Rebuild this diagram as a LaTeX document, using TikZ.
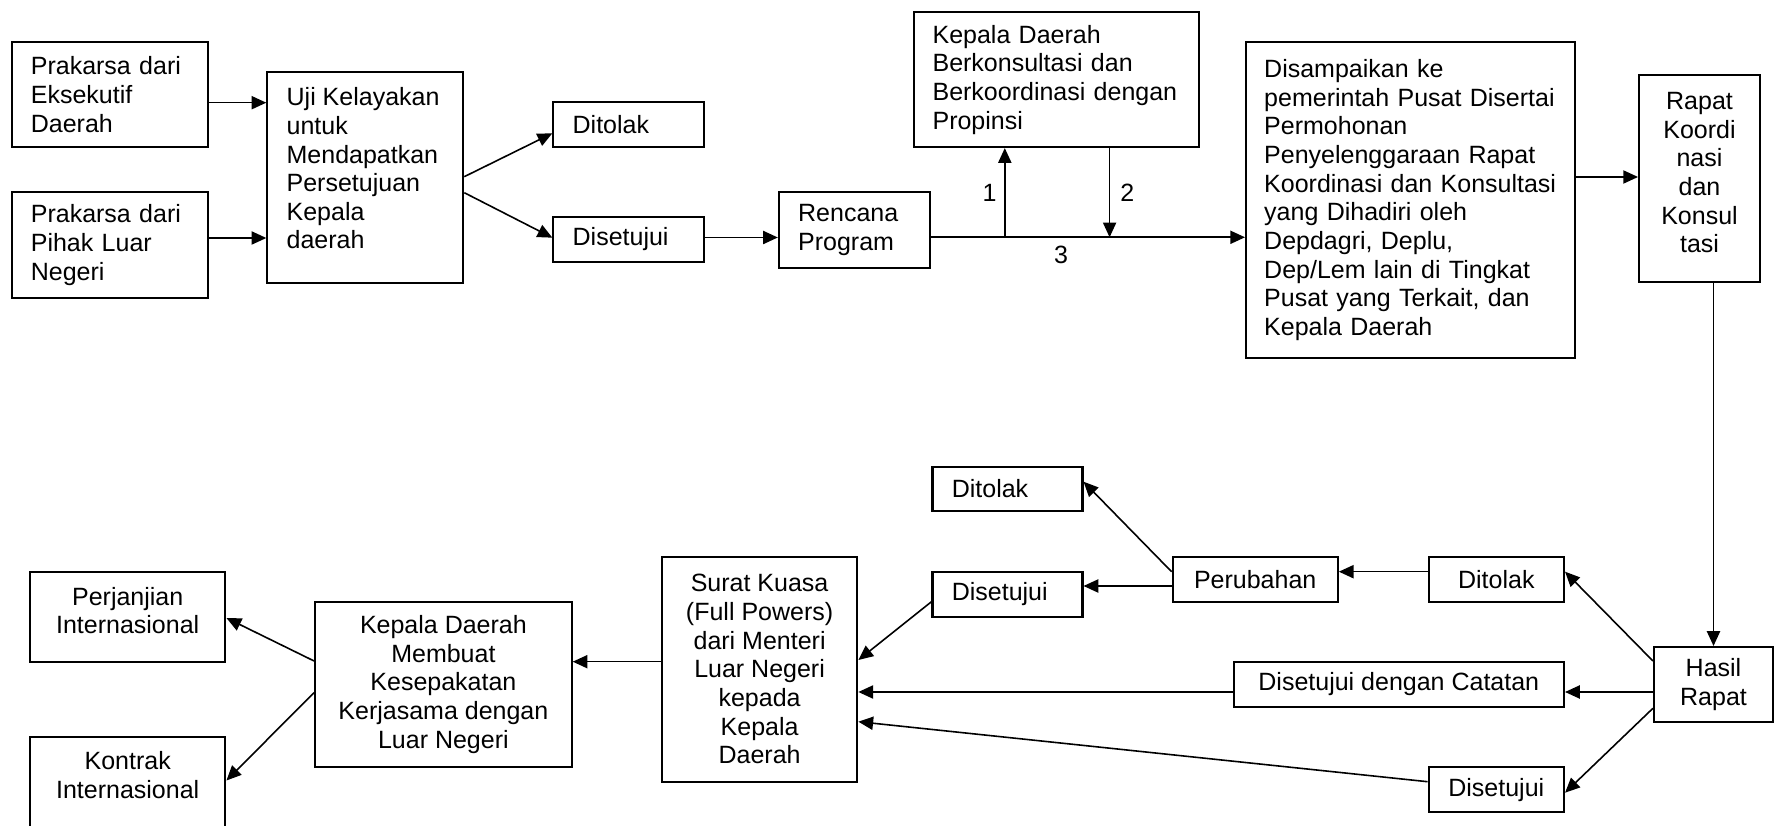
\documentclass[tikz,border=0pt]{standalone}
\usepackage{fontspec}
\setmainfont{Liberation Sans}
\usepackage{tikz}
\usetikzlibrary{arrows.meta}

\begin{document}
\begin{tikzpicture}[>={Triangle[length=6.5pt,width=5.8pt]},x=0.44pt,y=-0.44pt]
\tikzstyle{box}=[draw=black,line width=0.9pt,inner xsep=8.5pt,inner ysep=0pt]
\tikzstyle{lbox}=[box,align=left]
\tikzstyle{cbox}=[box,align=center]
\tikzset{font=\fontsize{11}{12.6}\selectfont}

\useasboundingbox (0,0) rectangle (1774,826);
\clip (0,0) rectangle (1774,826);

        % top row
        \node[lbox,text width=69.3pt,minimum height=46.1pt]   (prakarsaA) at (109.6,94.7)   {Prakarsa dari\\Eksekutif\\Daerah};
        \node[lbox,text width=69.3pt,minimum height=46.4pt]   (prakarsaB) at (109.6,245)    {Prakarsa dari\\Pihak Luar\\Negeri};
        \node[box,inner ysep=7pt]                             (uji)       at (365.3,177.4)  {\parbox[c][79pt][t]{69.2pt}{\raggedright Uji Kelayakan\\untuk\\Mendapatkan\\Persetujuan\\Kepala\\daerah}};
        \node[lbox,text width=49.3pt,minimum height=19.7pt]   (tolakA)    at (628.7,124.7)  {Ditolak};
        \node[lbox,text width=49.3pt,minimum height=19.8pt]   (setujuA)   at (628.7,239.2)  {Disetujui};
        \node[lbox,text width=49.3pt,minimum height=33.2pt]   (rencana)   at (854.2,230)    {Rencana\\Program};
        \node[lbox,inner xsep=8pt,text width=109.4pt,minimum height=59.3pt] (konsul) at (1056.9,79.7) {Kepala Daerah\\Berkonsultasi dan\\Berkoordinasi dengan\\Propinsi};
        \node[lbox,inner xsep=8pt,text width=128.9pt,minimum height=139.3pt] (pusat) at (1410.7,200) {Disampaikan ke\\pemerintah Pusat Disertai\\Permohonan\\Penyelenggaraan Rapat\\Koordinasi dan Konsultasi\\yang Dihadiri oleh\\Depdagri, Deplu,\\Dep/Lem lain di Tingkat\\Pusat yang Terkait, dan\\Kepala Daerah};
        \node[box,inner xsep=4pt,inner ysep=7.7pt]            (rapat)     at (1699.5,178.5) {\parbox[c][75.7pt][t]{45.2pt}{\centering Rapat\\Koordi\\nasi\\dan\\Konsul\\tasi}};

        % bottom row
        \node[cbox,minimum width=52.4pt,minimum height=33pt]   (hasil)     at (1713.5,684.5) {Hasil\\Rapat};
        \node[cbox,minimum width=59.6pt,minimum height=19.8pt] (tolakB)    at (1496.3,579.2) {Ditolak};
        \node[cbox,minimum width=72.7pt,minimum height=19.8pt] (perubahan) at (1255.2,579.2) {Perubahan};
        \node[lbox,text width=49pt,minimum height=19.5pt]      (tolakC)    at (1007.5,488.9) {Ditolak};
        \node[lbox,text width=49pt,minimum height=19.8pt]      (setujuC)   at (1007.5,594.2) {Disetujui};
        \node[cbox,minimum width=145.4pt,minimum height=20.1pt] (catatan)  at (1398.8,684.5) {Disetujui dengan Catatan};
        \node[cbox,minimum width=59.6pt,minimum height=19.8pt] (setujuD)   at (1496.3,789.8) {Disetujui};
        \node[cbox,minimum width=86pt,minimum height=99pt]     (surat)     at (759.6,669.2)  {Surat Kuasa\\(Full Powers)\\dari Menteri\\Luar Negeri\\kepada\\Kepala\\Daerah};
        \node[cbox,minimum width=112.9pt,minimum height=72.9pt] (membuat)  at (443.4,684.5)  {Kepala Daerah\\Membuat\\Kesepakatan\\Kerjasama dengan\\Luar Negeri};
        \node[box,inner xsep=4pt,inner ysep=6.7pt]             (perjanjian) at (127.7,616.7) {\parbox[c][26.2pt][t]{78pt}{\centering Perjanjian\\Internasional}};
        \node[box,inner xsep=4pt,inner ysep=6.6pt]             (kontrak)   at (127.7,801.7)  {\parbox[c][44pt][t]{78pt}{\centering Kontrak\\Internasional}};

        \coordinate (j1) at (1004.8,237.3);
        \coordinate (j2) at (1109.6,237.3);

        \path[->,line width=0.7pt]
        (prakarsaA.east |- 0,102.7)  edge                          (uji.west |- 0,102.7)
        (prakarsaB.east |- 0,238)    edge                          (uji.west |- 0,238)
        (uji.east |- 0,176.7)        edge                          (tolakA.west |- 0,133.3)
        (uji.east |- 0,192.7)        edge                          (setujuA.west |- 0,237.7)
        (setujuA.east |- 0,237.5)    edge                          (rencana.west |- 0,237.5)
        (rencana.east |- 0,237.3)    edge node[below,pos=.415] {3} (pusat.west |- 0,237.3)
        (j1)                         edge node[left]  {1}          (konsul.south -| j1)
        (konsul.south -| j2)         edge node[right,xshift=1pt] {2} (j2)
        (pusat.east |- 0,177)        edge                          (rapat.west |- 0,177)
        (rapat.south -| hasil)       edge                          (hasil.north)
        (hasil.west |- 0,661)        edge                          (tolakB.east |- 0,571.7)
        (hasil.west |- 0,692)        edge                          (catatan.east |- 0,692)
        (hasil.west |- 0,708.3)      edge                          (setujuD.east |- 0,792.7)
        (tolakB.west |- 0,571.7)     edge                          (perubahan.east |- 0,571.7)
        (perubahan.west |- 0,571.7)  edge                          (tolakC.east |- 0,481.7)
        (perubahan.west |- 0,586)    edge                          (setujuC.east |- 0,586)
        (setujuC.west |- 0,601.7)    edge                          (surat.east |- 0,660)
        (catatan.west |- 0,692)      edge                          (surat.east |- 0,692)
        (setujuD.west |- 0,781.7)    edge                          (surat.east |- 0,721.7)
        (surat.west |- 0,661.7)      edge                          (membuat.east |- 0,661.7)
        (membuat.west |- 0,661)      edge                          (perjanjian.east |- 0,618)
        (membuat.west |- 0,692.7)    edge                          (kontrak.east |- 0,780.5)
        ; %end path
\end{tikzpicture}
\end{document}
